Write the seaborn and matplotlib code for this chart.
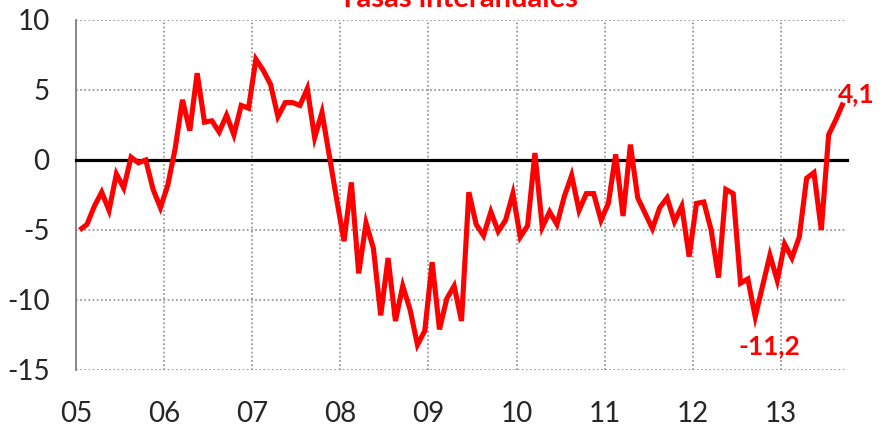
import numpy as np
import pandas as pd
import matplotlib
matplotlib.use("Agg")
import matplotlib.pyplot as plt
import seaborn as sns

# Monthly year-on-year rates, Jan 2005 .. Sep 2013
values = [
    -5.0, -4.6, -3.3, -2.3, -3.6, -1.0, -2.0, 0.2, -0.2, 0.0, -2.1, -3.4,   # 2005
    -1.8, 0.8, 4.3, 2.1, 6.2, 2.7, 2.8, 2.0, 3.2, 1.8, 3.9, 3.7,            # 2006
    7.2, 6.4, 5.4, 3.1, 4.1, 4.1, 3.9, 5.1, 1.6, 3.4, 0.3, -2.8,            # 2007
    -5.8, -1.6, -8.1, -4.5, -6.3, -11.1, -7.0, -11.5, -9.0, -10.7, -13.2, -12.2,  # 2008
    -7.3, -12.1, -9.9, -9.0, -11.5, -2.3, -4.6, -5.4, -3.7, -5.1, -4.3, -2.4,     # 2009
    -5.5, -4.7, 0.5, -4.8, -3.7, -4.6, -2.6, -1.1, -3.6, -2.4, -2.4, -4.3,        # 2010
    -3.1, 0.4, -4.0, 1.1, -2.7, -3.8, -4.9, -3.4, -2.7, -4.4, -3.3, -6.9,         # 2011
    -3.1, -3.0, -5.0, -8.4, -2.1, -2.4, -8.8, -8.5, -11.2, -9.0, -6.8, -8.6,      # 2012
    -6.0, -7.0, -5.5, -1.3, -0.9, -5.0, 1.8, 2.9, 4.1,                            # 2013
]
year_labels = ["05", "06", "07", "08", "09", "10", "11", "12", "13"]
y_ticks = [-15, -10, -5, 0, 5, 10]
title = "Tasas interanuales"
min_label = "-11,2"
last_label = "4,1"

RED = "#FF0000"

df = pd.DataFrame({"mes": np.arange(len(values)) + 0.5, "tasa": values})

sns.set_style("white")
plt.rcParams["font.family"] = ["Lato", "DejaVu Sans"]

fig = plt.figure(figsize=(8.89, 4.25), dpi=100)
ax = fig.add_axes([76 / 889, 1 - 370 / 425, (847 - 76) / 889, 350 / 425])

sns.lineplot(data=df, x="mes", y="tasa", ax=ax, color=RED, linewidth=3.7,
             solid_joinstyle="miter", solid_capstyle="butt", zorder=5)

ax.set_xlim(0, len(values))
ax.set_ylim(-15, 10)
ax.set_xlabel("")
ax.set_ylabel("")

xt = [12 * i for i in range(len(year_labels))]
ax.set_xticks(xt)
ax.set_xticklabels([])
ax.set_yticks(y_ticks)
ax.set_yticklabels([str(v) for v in y_ticks], fontsize=20)
ax.tick_params(axis="y", length=0, pad=19)

# zero axis with tick marks
ax.spines["bottom"].set_position(("data", 0))
ax.spines["bottom"].set_color("black")
ax.spines["bottom"].set_linewidth(2.3)
ax.spines["bottom"].set_zorder(4)
ax.tick_params(axis="x", direction="out", length=6, width=2.3, color="black")
ax.spines["top"].set_visible(False)
ax.spines["right"].set_visible(False)
ax.spines["left"].set_color("#808080")
ax.spines["left"].set_linewidth(1.3)

ax.grid(True, color="#8c8c8c", linestyle=(0, (1, 1.5)), linewidth=1.2)
ax.set_axisbelow(True)

# year labels at the bottom
sec = ax.secondary_xaxis(0.0)
sec.set_xticks(xt)
sec.set_xticklabels(year_labels, fontsize=20)
sec.tick_params(length=0, pad=22)
sec.spines["bottom"].set_visible(False)

# annotations
imin = int(np.argmin(values[80:])) + 80
ax.annotate(min_label, xy=(df["mes"][imin], values[imin]), xytext=(10, -21),
            textcoords="offset points", ha="center", va="center",
            color=RED, fontsize=19, fontweight="bold")
ax.annotate(last_label, xy=(df["mes"].iloc[-1], values[-1]), xytext=(9, 6),
            textcoords="offset points", ha="center", va="center",
            color=RED, fontsize=19, fontweight="bold")

fig.text(458 / 889, 1 - 7 / 425, title, ha="center", va="baseline",
         color=RED, fontsize=21, fontweight="bold")

fig.savefig("out.png", dpi=100)
